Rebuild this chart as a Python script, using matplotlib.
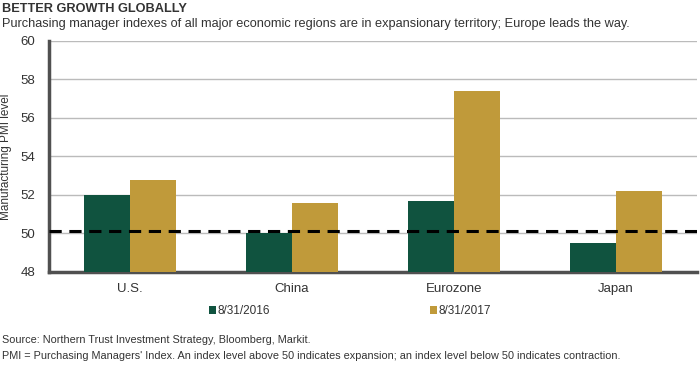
import matplotlib
matplotlib.use("Agg")
import matplotlib.pyplot as plt
import numpy as np

regions = ["U.S.", "China", "Eurozone", "Japan"]
pmi_2016 = [52.0, 50.0, 51.7, 49.5]
pmi_2017 = [52.8, 51.6, 57.4, 52.2]
series_labels = ["8/31/2016", "8/31/2017"]
threshold = 50.1

plt.rcParams['font.family'] = ['Liberation Sans', 'DejaVu Sans']

green = "#10533f"
gold = "#c09a3a"
txt = "#333333"

fig = plt.figure(figsize=(7, 3.65), dpi=100)
ax = fig.add_axes([0.07, 0.255, 0.926, 0.633])

x = np.arange(len(regions))
w = 0.285
b1 = ax.bar(x - w / 2, np.array(pmi_2016) - 48, w, bottom=48, color=green, zorder=3)
b2 = ax.bar(x + w / 2, np.array(pmi_2017) - 48, w, bottom=48, color=gold, zorder=3)
ax.axhline(threshold, color="black", lw=2.2, ls=(0, (4, 2.5)), zorder=4)

ax.set_xlim(-0.5, 3.5)
ax.set_ylim(48, 60)
ax.set_yticks(np.arange(48, 61, 2))
ax.set_xticks(x)
ax.set_xticklabels(regions)
ax.tick_params(axis="both", length=0, labelsize=9.5, colors=txt, pad=8)
ax.tick_params(axis="y", pad=10)
ax.grid(axis="y", color="#bbbbbb", lw=1, zorder=0)
for s in ["top", "right"]:
    ax.spines[s].set_visible(False)
for s in ["left", "bottom"]:
    ax.spines[s].set_color("#505050")
    ax.spines[s].set_linewidth(2.5)
ax.set_ylabel("Manufacturing PMI level", fontsize=8.5, color=txt, labelpad=6)

fig.legend([b1, b2], series_labels, loc="center", bbox_to_anchor=(0.5, 0.148), ncol=2,
           frameon=False, fontsize=8.5, handlelength=0.6, handleheight=0.6,
           handletextpad=0.15, columnspacing=13.5, labelcolor=txt)

fig.text(0.003, 0.975, "BETTER GROWTH GLOBALLY", fontsize=9.2, fontweight="bold",
         color=txt, va="center")
fig.text(0.003, 0.933, "Purchasing manager indexes of all major economic regions are in expansionary territory; Europe leads the way.",
         fontsize=9.2, color=txt, va="center")
fig.text(0.003, 0.068, "Source: Northern Trust Investment Strategy, Bloomberg, Markit.",
         fontsize=7.8, color=txt, va="center")
fig.text(0.003, 0.025, "PMI = Purchasing Managers' Index. An index level above 50 indicates expansion; an index level below 50 indicates contraction.",
         fontsize=7.8, color=txt, va="center")

fig.savefig("out.png", dpi=100)
